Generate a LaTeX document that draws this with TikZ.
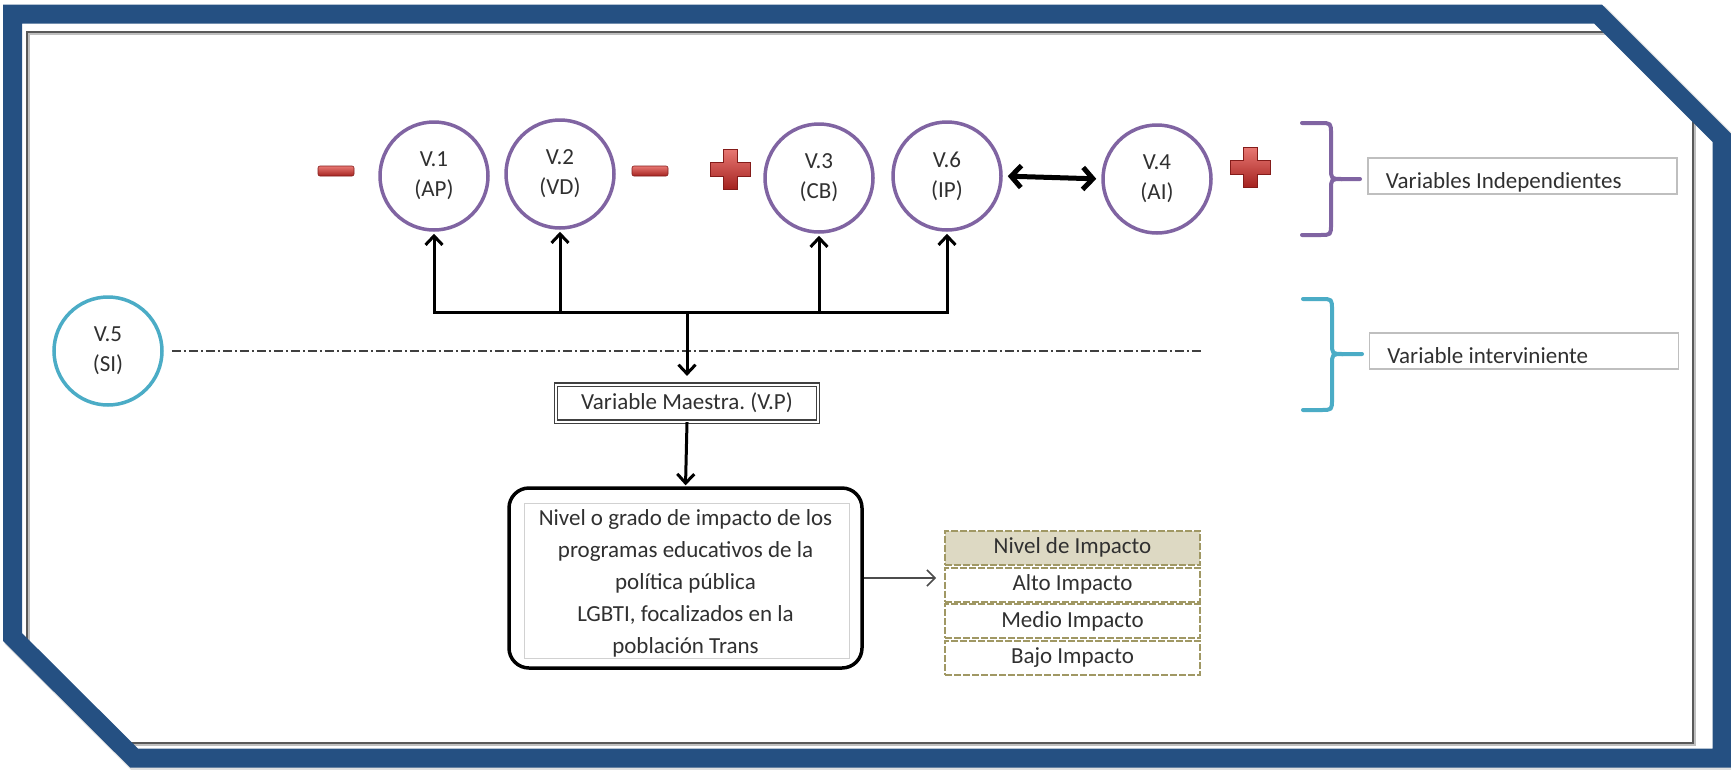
\documentclass[tikz,border=0pt]{standalone}
\usepackage{fontspec}
\setmainfont{Carlito}
\frenchspacing
\usetikzlibrary{arrows.meta,shapes.geometric}

\definecolor{frameblue}{RGB}{37,80,130}
\definecolor{vpurple}{RGB}{128,100,162}
\definecolor{vcyan}{RGB}{75,172,198}
\definecolor{olivedash}{RGB}{160,152,100}
\definecolor{tanfill}{RGB}{221,217,195}
\definecolor{signtop}{RGB}{232,120,115}
\definecolor{signbot}{RGB}{165,35,32}
\definecolor{txt}{RGB}{48,48,48}

\begin{document}
\begin{tikzpicture}[x=1pt,y=-1pt,
  every node/.style={font=\fontsize{23}{30}\selectfont, text=txt},
  vcirc/.style={circle, draw=vpurple, line width=3.5pt, minimum size=108pt, align=center, inner sep=0pt},
  tree/.style={line width=3pt, black, line cap=rect},
  uparr/.style={line width=3pt, black, -{Straight Barb[length=9pt,width=17pt]}, shorten >=2pt},
  downarr/.style={line width=3pt, black, -{Straight Barb[length=9pt,width=17pt]}},
  dblarr/.style={line width=5pt, black, {Straight Barb[length=10pt,width=22pt]}-{Straight Barb[length=10pt,width=22pt]}, shorten >=5pt, shorten <=5pt},
  thinarr/.style={line width=1.5pt, black!70, -{Straight Barb[length=8pt,width=16pt]}},
  bracepath/.style={line width=4pt, line cap=round, line join=round},
  lblbox/.style={rectangle, draw=black!25, line width=1.2pt, minimum width=309pt, minimum height=36pt, inner sep=0pt},
  tcell/.style={rectangle, draw=olivedash, line width=2pt, dash pattern=on 7pt off 2pt, minimum width=255pt, minimum height=34pt, inner sep=0pt},
  signshade/.style={top color=signtop, bottom color=signbot, draw=signbot!80!black, line width=0.6pt},
  minussign/.pic={\shade[signshade, rounded corners=2pt] (-18,-5) rectangle (18,5);},
  plussign/.pic={\shade[signshade] (-7,-20) -- (7,-20) -- (7,-7) -- (20,-7) -- (20,7) -- (7,7) -- (7,20) -- (-7,20) -- (-7,7) -- (-20,7) -- (-20,-7) -- (-7,-7) -- cycle;}
]
\useasboundingbox (0,0) rectangle (1731,769);
\fill[white] (0,0) rectangle (1731,769);

% frame outline: soft shadow, inner sheet, blue border
\draw[black, opacity=0.12, line width=21pt] (15,16.5) -- (1600.5,16.5) -- (1724.5,140.5) -- (1724.5,760.5) -- (136.5,760.5) -- (15,639.5) -- cycle;
\begin{scope}
  \clip (12.5,14) -- (1598,14) -- (1722,138) -- (1722,758) -- (134,758) -- (12.5,637) -- cycle;
  \fill[white] (0,0) rectangle (1731,769);
  \draw[black!25, line width=2pt] (29,34) rectangle (1695,745);
  \draw[black!65, line width=1.5pt] (27,32) rectangle (1693,743);
\end{scope}
\draw[frameblue, line width=19pt] (12.5,14) -- (1598,14) -- (1722,138) -- (1722,758) -- (134,758) -- (12.5,637) -- cycle;

% independent variables
\node[vcirc] (v1) at (434,176) {V.1\\(AP)};
\node[vcirc] (v2) at (560,174) {V.2\\(VD)};
\node[vcirc] (v3) at (819,178) {V.3\\(CB)};
\node[vcirc] (v6) at (947,176) {V.6\\(IP)};
\node[vcirc] (v4) at (1157,179) {V.4\\(AI)};

% signs
\pic at (336,171) {minussign};
\pic at (650,171) {minussign};
\pic at (730,169) {plussign};
\pic at (1250,167) {plussign};

% intervening variable
\node[vcirc, draw=vcyan] (v5) at (108,351) {V.5\\(SI)};
\coordinate (ddend) at (1203,351);
\draw[black!75, line width=1.5pt, dash pattern=on 9pt off 3pt on 2pt off 3pt, shorten <=8pt] (v5.east) -- (ddend);

% master variable and outcome
\node[rectangle, draw=black!75, double=white, double distance=2pt, line width=1.2pt, minimum width=262pt, minimum height=37pt, inner sep=0pt] (vp) at (687,403) {Variable Maestra. (V.P)};
\node[rectangle, rounded corners=20pt, draw=black, line width=3.5pt, minimum width=353pt, minimum height=180pt] (big) at (685.5,578) {};
\draw[black!18, line width=1pt] ([xshift=17pt,yshift=-17pt]big.north west) rectangle ([xshift=-14pt,yshift=11pt]big.south east);
\node[align=center, font=\fontsize{23}{32}\selectfont] (bigtext) at (685.5,583) {Nivel o grado de impacto de los\\programas educativos de la\\política pública\\LGBTI, focalizados en la\\población Trans};

% connectors
\coordinate (bar) at (687,312);
\draw[tree] (v1 |- bar) -- (v6 |- bar);
\draw[uparr] (v1 |- bar) -- (v1.south);
\draw[uparr] (v2 |- bar) -- (v2.south);
\draw[uparr] (v3 |- bar) -- (v3.south);
\draw[uparr] (v6 |- bar) -- (v6.south);
\draw[downarr, shorten >=8pt] (bar) -- (vp.north);
\draw[downarr, shorten >=1pt] (vp.south) -- (big.north);
\draw[dblarr] (v6.east) -- (v4.west);

% impact levels
\node[tcell, fill=tanfill] (t0) at (1072.5,547.5) {Nivel de Impacto};
\node[tcell] (t1) at (1072.5,584.5) {Alto Impacto};
\node[tcell] (t2) at (1072.5,621) {Medio Impacto};
\node[tcell] (t3) at (1072.5,658) {Bajo Impacto};
\draw[thinarr, shorten >=8pt] (big.east) -- (big.east -| t1.west);

% braces and their labels
\draw[bracepath, vpurple] (1302,123) -- (1320,123) .. controls (1331,123) .. (1331,134) -- (1331,168) .. controls (1331,179) .. (1342,179) -- (1360,179);
\draw[bracepath, vpurple] (1342,179) .. controls (1331,179) .. (1331,190) -- (1331,224) .. controls (1331,235) .. (1320,235) -- (1302,235);
\node[lblbox] (lb1) at (1522.5,176) {};
\node[anchor=base west] (lb1t) at ([xshift=15pt,yshift=6pt]lb1.south west) {Variables Independientes};

\draw[bracepath, vcyan] (1303,299) -- (1321,299) .. controls (1332,299) .. (1332,310) -- (1332,343) .. controls (1332,354) .. (1343,354) -- (1362,354);
\draw[bracepath, vcyan] (1343,354) .. controls (1332,354) .. (1332,365) -- (1332,399) .. controls (1332,410) .. (1321,410) -- (1303,410);
\node[lblbox] (lb2) at (1524,351) {};
\node[anchor=base west] (lb2t) at ([xshift=15pt,yshift=6pt]lb2.south west) {Variable interviniente};
\end{tikzpicture}
\end{document}
